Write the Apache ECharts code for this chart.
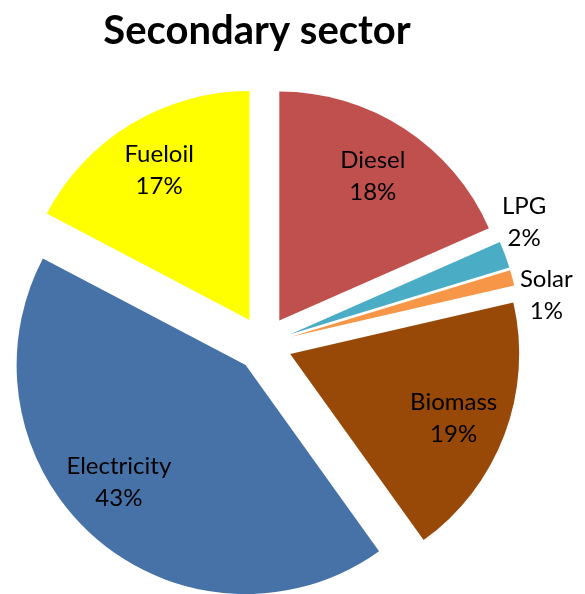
<!DOCTYPE html>
<html><head><meta charset="utf-8">
<script src="https://cdn.jsdelivr.net/npm/echarts@6/dist/echarts.min.js"></script>
<style>html,body{margin:0;padding:0;background:#fff}#c{width:585px;height:594px}</style>
</head><body><div id="c"></div>
<script>
const titleText = 'Secondary sector';
const categories = ['Diesel', 'LPG', 'Solar', 'Biomass', 'Electricity', 'Fueloil'];
const values = [18.4, 1.9, 1.1, 18.7, 42.6, 17.3];
const colors = ['#C0504D', '#4BACC6', '#F79646', '#984807', '#4672A8', '#FFFF00'];
const outsideLabels = ['LPG', 'Solar'];

// small label nudges (best-fit style placement), in px
const labelNudge = { Electricity: [-12, -15], Biomass: [0, 3], Diesel: [-2, 2], LPG: [-8, -22], Solar: [6, 25] };

const CX = 264, CY = 344, R = 229, OFF = 28;
const font = 'Lato, "Open Sans", sans-serif';

function base(extra) {
  return Object.assign({
    type: 'pie', center: [CX, CY], startAngle: 90, clockwise: true,
    selectedMode: 'multiple', selectedOffset: OFF, animation: false,
    silent: true, emphasis: { disabled: true }, percentPrecision: 0,
    labelLine: { show: false }, avoidLabelOverlap: false, minShowLabelAngle: 0
  }, extra);
}

const labelStyle = {
  color: '#000', fontFamily: font, fontSize: 24, lineHeight: 32,
  formatter: '{b}\n{d}%'
};

function nudge(params) {
  const n = labelNudge[categories[params.dataIndex]];
  return n ? { dx: n[0], dy: n[1], hideOverlap: false } : { hideOverlap: false };
}

const chart = echarts.init(document.getElementById('c'), null, { renderer: 'canvas' });
chart.setOption({
  backgroundColor: '#fff',
  title: {
    text: titleText, left: 257, top: 11, textAlign: 'center', padding: 0,
    textStyle: { fontFamily: font, fontWeight: 'bold', fontSize: 40, color: '#000' }
  },
  series: [
    base({
      radius: [0, R],
      label: { show: false },
      data: categories.map((c, i) => ({
        name: c, value: values[i], selected: true,
        itemStyle: { color: colors[i], borderWidth: 0 }
      }))
    }),
    base({
      radius: [R / 2, R],
      z: 3,
      labelLayout: nudge,
      label: Object.assign({ show: true, position: 'inside' }, labelStyle),
      data: categories.map((c, i) => ({
        name: c, value: values[i], selected: true,
        itemStyle: { color: 'rgba(0,0,0,0)', borderWidth: 0 },
        label: { show: outsideLabels.indexOf(c) < 0 }
      }))
    }),
    base({
      radius: [230, 280],
      z: 3,
      labelLayout: nudge,
      label: Object.assign({ show: true, position: 'inside' }, labelStyle),
      data: categories.map((c, i) => ({
        name: c, value: values[i], selected: true,
        itemStyle: { color: 'rgba(0,0,0,0)', borderWidth: 0 },
        label: { show: outsideLabels.indexOf(c) >= 0 }
      }))
    })
  ]
});
</script>
</body></html>
